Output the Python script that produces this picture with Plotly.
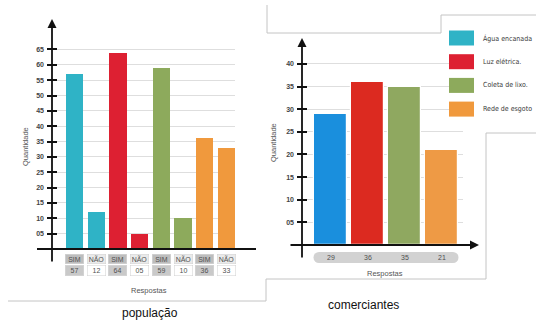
import plotly.graph_objects as go

# ---- data -------------------------------------------------------------
services = ["Água encanada", "Luz elétrica.", "Coleta de lixo.", "Rede de esgoto"]
answers = ["SIM", "NÃO"]

# população: SIM / NÃO per service
pop_sim = [57, 64, 59, 36]
pop_nao = [12, 5, 10, 33]

# comerciantes: one count per service
com_values = [29, 36, 35, 21]

pop_colors = ["#2FB3C6", "#DD2032", "#8DAA5C", "#F0993D"]
com_colors = ["#1A8FDD", "#DC2A20", "#8FA860", "#EE9A45"]

pop_ticks = list(range(5, 70, 5))
com_ticks = list(range(5, 45, 5))

# ---- page geometry helpers -------------------------------------------
W, H = 536, 320


def px(x):
    return x / W


def py(y):
    return 1 - y / H


FONT = "Liberation Sans, Arial, sans-serif"
NARROW = "Liberation Sans Narrow, DejaVu Sans Condensed, Liberation Sans, Arial, sans-serif"

# interleave SIM/NÃO bars
pop_vals, pop_bar_colors, pop_answers = [], [], []
for s, n, c in zip(pop_sim, pop_nao, pop_colors):
    pop_vals += [s, n]
    pop_bar_colors += [c, c]
    pop_answers += answers
pop_x = list(range(len(pop_vals)))
com_x = list(range(len(com_values)))

fig = go.Figure()
fig.add_trace(go.Bar(
    x=pop_x, y=pop_vals, width=0.8,
    marker=dict(color=pop_bar_colors, line=dict(width=0)),
    xaxis="x", yaxis="y", showlegend=False, hoverinfo="skip",
))
fig.add_trace(go.Bar(
    x=com_x, y=com_values, width=0.9,
    marker=dict(color=com_colors, line=dict(color="white", width=1.2)),
    xaxis="x2", yaxis="y2", showlegend=False, hoverinfo="skip",
))

tickfont = dict(family=FONT, size=7, color="#444", weight="bold")
grid = "#DEDEDE"

fig.update_layout(
    width=W, height=H,
    margin=dict(l=0, r=0, t=0, b=0),
    paper_bgcolor="white", plot_bgcolor="rgba(0,0,0,0)",
    bargap=0,
    xaxis=dict(domain=[px(47), px(235)], range=[-1.267, 7.396],
               showgrid=False, zeroline=False, showticklabels=False,
               ticks="", showline=False, fixedrange=True),
    yaxis=dict(domain=[py(249), py(20)], range=[0, 74.6],
               tickvals=pop_ticks, ticktext=[f"{v:02d}" for v in pop_ticks],
               ticks="inside", ticklen=10, tickwidth=1.6, tickcolor="#111",
               showgrid=True, gridcolor=grid, gridwidth=1, zeroline=False,
               showline=False, tickfont=tickfont, ticklabelstandoff=2,
               anchor="x", fixedrange=True),
    xaxis2=dict(domain=[px(297), px(463)], range=[-0.905, 3.58],
                showgrid=False, zeroline=False, showticklabels=False,
                ticks="", showline=False, anchor="y2", fixedrange=True),
    yaxis2=dict(domain=[py(245), py(40)], range=[0, 45.3],
                tickvals=com_ticks, ticktext=[f"{v:02d}" for v in com_ticks],
                ticks="inside", ticklen=10, tickwidth=1.6, tickcolor="#111",
                showgrid=True, gridcolor=grid, gridwidth=1, zeroline=False,
                showline=False, tickfont=tickfont, ticklabelstandoff=2,
                anchor="x2", fixedrange=True),
)

shapes = []
annotations = []


def label(x, y, text, font, **kw):
    """Paper-positioned text, centred on (x, y) unless told otherwise."""
    d = dict(xref="paper", yref="paper", x=px(x), y=py(y), text=text,
             showarrow=False, font=font, xanchor="center", yanchor="middle")
    d.update(kw)
    annotations.append(d)


# ---- framing lines ----------------------------------------------------
frame = "#C4C4C4"
frame_segments = [
    ((8, 301), (266, 301)), ((266, 279), (266, 301)),
    ((266, 279), (486, 279)), ((486, 133), (486, 279)),
    ((486, 133), (536, 133)),
    ((267, 5), (267, 33)), ((267, 33), (441, 33)),
    ((441, 15), (441, 33)), ((441, 15), (536, 15)),
]
for (x0, y0), (x1, y1) in frame_segments:
    shapes.append(dict(type="line", xref="paper", yref="paper",
                       x0=px(x0), y0=py(y0), x1=px(x1), y1=py(y1),
                       line=dict(color=frame, width=1)))

# ---- axis lines -------------------------------------------------------
# população: horizontal baseline, vertical axis with arrow
shapes.append(dict(type="line", xref="paper", yref="paper",
                   x0=px(37), y0=py(249), x1=px(256), y1=py(249),
                   line=dict(color="#111", width=1.8)))
annotations.append(dict(xref="paper", yref="paper", x=px(52), y=py(19),
                        ax=0, ay=244, axref="pixel", ayref="pixel",
                        text="", showarrow=True, arrowhead=2, arrowsize=1,
                        arrowwidth=1.8, arrowcolor="#111"))
# comerciantes: both axes
annotations.append(dict(xref="paper", yref="paper", x=px(302), y=py(38),
                        ax=0, ay=221, axref="pixel", ayref="pixel",
                        text="", showarrow=True, arrowhead=2, arrowsize=1,
                        arrowwidth=1.8, arrowcolor="#111"))
annotations.append(dict(xref="paper", yref="paper", x=px(479), y=py(245),
                        ax=-190, ay=0, axref="pixel", ayref="pixel",
                        text="", showarrow=True, arrowhead=2, arrowsize=1,
                        arrowwidth=1.8, arrowcolor="#111"))

# ---- população answer table -----------------------------------------
cell_font = dict(family=FONT, size=7, color="#505050")
for xi, ans, val in zip(pop_x, pop_answers, pop_vals):
    is_sim = ans == "SIM"
    annotations.append(dict(
        xref="x", yref="paper", x=xi, y=py(258.5), text=ans,
        showarrow=False, font=cell_font, width=18, height=9,
        xanchor="center", yanchor="middle",
        bgcolor="#BDBDBD" if is_sim else "#EAEAEA",
        bordercolor="#CFCFCF", borderwidth=0.5, borderpad=0))
    annotations.append(dict(
        xref="x", yref="paper", x=xi, y=py(270), text=f"{val:02d}",
        showarrow=False, font=cell_font, width=18, height=10,
        xanchor="center", yanchor="middle",
        bgcolor="#C9C9C9" if is_sim else "#FFFFFF",
        bordercolor="#CFCFCF", borderwidth=0.5, borderpad=0))

# ---- comerciantes value pill -----------------------------------------
pill = "#D2D2D2"
shapes.append(dict(type="rect", xref="paper", yref="paper",
                   x0=px(319), x1=px(453), y0=py(263), y1=py(252),
                   fillcolor=pill, line=dict(width=0), layer="below"))
for cx in (319, 453):
    shapes.append(dict(type="circle", xref="paper", yref="paper",
                       x0=px(cx - 5.5), x1=px(cx + 5.5), y0=py(263), y1=py(252),
                       fillcolor=pill, line=dict(width=0), layer="below"))
for xi, val in zip(com_x, com_values):
    annotations.append(dict(xref="x2", yref="paper", x=xi, y=py(257.5),
                            text=str(val), showarrow=False, font=cell_font,
                            xanchor="center", yanchor="middle"))

# ---- legend -----------------------------------------------------------
legend_font = dict(family=NARROW, size=7, color="#3a3a3a")
for i, (name, col) in enumerate(zip(services, pop_colors)):
    cy = 38 + i * 23.7
    shapes.append(dict(type="rect", xref="paper", yref="paper",
                       x0=px(449), x1=px(474), y0=py(cy + 7.5), y1=py(cy - 7.5),
                       fillcolor=col, line=dict(width=0)))
    label(481, cy, name, legend_font, xanchor="left")

# ---- axis titles and captions ----------------------------------------
small = dict(family=FONT, size=7.5, color="#555")
caption = dict(family=FONT, size=12, color="#111")
label(25, 147, "Quantidade", small, textangle=-90)
label(273, 143, "Quantidade", small, textangle=-90)
label(149, 290, "Respostas", small)
label(385, 273, "Respostas", small)
label(150, 313, "população", caption)
label(363, 305, "comerciantes", caption)

fig.update_layout(shapes=shapes, annotations=annotations)
fig.write_html("out.html")
